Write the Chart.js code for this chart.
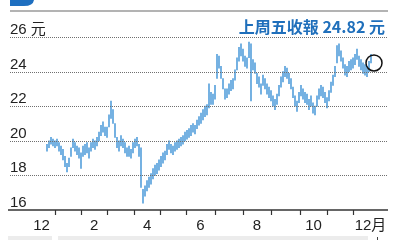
<!DOCTYPE html>
<html>
<head>
<meta charset="utf-8">
<script src="https://cdn.jsdelivr.net/npm/chart.js@4"></script>
<style>
  html, body { margin: 0; padding: 0; background: #fff; }
  #wrap { width: 400px; height: 240px; position: relative; }
</style>
</head>
<body>
<div id="wrap"><canvas id="stockChart" width="400" height="240"></canvas></div>
<script>
// ===== DATA =====
const titleText = '上周五收報 24.82 元';
const yTicks = [16, 18, 20, 22, 24, 26];
const yUnit = '元';
const monthLabels = ['12', '2', '4', '6', '8', '10', '12月'];
// month boundaries on the trading-slot axis (Dec .. Dec)
const monthEdges = [9, 22.5, 35.5, 48.65, 62.15, 75, 88, 102.5, 116.5, 130.5, 145, 158.5, 171.5, 185];
const firstSlot = 18.5;

const lows = [
    19.4, 19.6, 19.8, 19.7, 19.6, 19.7, 19.4, 19.2, 18.9, 18.5, 18.2, 18.5, 19.1, 19.6, 19.4, 19.2, 19.0, 18.4, 19.1, 19.2,
    19.3, 19.0, 19.4, 19.6, 19.5, 19.7, 20.0, 20.3, 20.5, 20.3, 20.2, 20.8, 21.3, 21.0, 20.2, 19.6, 19.4, 19.7, 19.6, 19.3,
    19.1, 19.1, 19.0, 19.3, 19.6, 19.7, 19.1, 17.3, 16.4, 16.8, 17.1, 17.3, 17.5, 17.8, 18.0, 18.1, 18.3, 18.5, 18.7, 18.9,
    19.2, 19.5, 19.3, 19.2, 19.4, 19.5, 19.6, 19.7, 19.8, 20.0, 20.1, 20.2, 20.3, 20.5, 20.4, 20.7, 20.9, 21.0, 21.2, 21.4,
    21.5, 21.9, 22.1, 22.1, 22.4, 23.6, 24.2, 23.6, 23.0, 22.4, 22.5, 22.7, 22.9, 23.0, 23.5, 24.1, 24.6, 24.9, 24.6, 24.3,
    24.2, 24.8, 22.3, 24.1, 23.9, 23.3, 23.1, 22.7, 23.2, 23.0, 22.7, 22.5, 22.3, 22.0, 21.8, 22.1, 22.6, 23.1, 23.4, 23.7,
    23.6, 23.3, 23.0, 22.5, 22.0, 21.7, 22.2, 22.6, 22.4, 22.2, 22.1, 21.8, 22.0, 21.6, 21.5, 22.0, 22.4, 22.6, 22.5, 22.2,
    21.9, 22.3, 22.8, 23.2, 23.7, 24.5, 24.9, 24.6, 24.2, 23.8, 23.7, 24.0, 24.1, 24.2, 24.4, 24.7, 24.3, 24.1, 23.9, 23.8,
    23.7, 24.0, 24.5
];
const highs = [
    19.8, 20.0, 20.2, 20.1, 20.0, 20.1, 19.9, 19.7, 19.5, 19.1, 18.7, 19.0, 19.6, 20.1, 19.9, 19.7, 19.6, 19.3, 19.7, 19.8,
    19.9, 19.6, 19.9, 20.1, 20.0, 20.2, 20.5, 20.9, 21.1, 20.8, 20.8, 21.5, 22.3, 21.8, 21.0, 20.2, 20.0, 20.3, 20.1, 19.9,
    19.6, 19.7, 19.5, 19.9, 20.1, 20.2, 19.8, 19.6, 17.2, 17.4, 17.7, 17.9, 18.1, 18.4, 18.6, 18.7, 18.9, 19.1, 19.3, 19.4,
    19.8, 20.0, 19.8, 19.7, 19.9, 20.0, 20.1, 20.2, 20.3, 20.5, 20.6, 20.7, 20.9, 21.0, 20.9, 21.2, 21.4, 21.6, 21.8, 22.0,
    22.1, 23.3, 22.8, 22.7, 23.2, 25.0, 24.9, 24.3, 23.6, 23.0, 23.0, 23.3, 23.5, 23.6, 24.1, 24.8, 25.4, 25.6, 25.3, 24.9,
    24.8, 25.7, 25.6, 24.7, 24.5, 23.9, 23.7, 23.3, 23.8, 23.6, 23.3, 23.1, 22.9, 22.6, 22.4, 22.7, 23.2, 23.7, 24.0, 24.3,
    24.2, 23.9, 23.6, 23.1, 22.6, 22.3, 22.8, 23.2, 23.0, 22.8, 22.7, 22.4, 22.6, 22.2, 22.0, 22.6, 23.0, 23.2, 23.1, 22.8,
    22.5, 22.9, 23.4, 23.8, 24.3, 25.5, 25.6, 25.2, 24.8, 24.4, 24.3, 24.6, 24.7, 24.8, 25.0, 25.3, 24.9, 24.7, 24.5, 24.4,
    24.3, 24.6, 25.0
];

document.addEventListener('DOMContentLoaded', function () {
    const points = lows.map((lo, i) => ({ x: firstSlot + i, y: [lo, highs[i]] }));

    const decorPlugin = {
        id: 'decor',
        afterDraw(chart) {
            const { ctx, chartArea: { left, right, bottom }, scales: { x, y } } = chart;
            ctx.save();

            // top rule + logo stub
            ctx.fillStyle = '#1e6fc0';
            ctx.beginPath();
            ctx.moveTo(10, 0);
            ctx.lineTo(34, 0);
            ctx.quadraticCurveTo(33, 6, 24, 6);
            ctx.lineTo(10, 6);
            ctx.closePath();
            ctx.fill();
            ctx.strokeStyle = '#9a9a9a';
            ctx.lineWidth = 1.5;
            ctx.beginPath();
            ctx.moveTo(left, 11);
            ctx.lineTo(right, 11);
            ctx.stroke();

            // title
            ctx.fillStyle = '#1f6fbb';
            ctx.font = 'bold 16px "Noto Sans CJK TC", sans-serif';
            ctx.textAlign = 'right';
            ctx.textBaseline = 'alphabetic';
            ctx.fillText(titleText, right - 3, 33);

            // dotted grid + y labels
            ctx.font = '15px "Liberation Sans", "Noto Sans CJK TC", sans-serif';
            ctx.textAlign = 'left';
            yTicks.forEach((v) => {
                const py = Math.round(y.getPixelForValue(v)) + 0.5;
                if (v !== yTicks[0]) {
                    ctx.strokeStyle = '#707070';
                    ctx.lineWidth = 1;
                    ctx.setLineDash([1, 1]);
                    ctx.beginPath();
                    ctx.moveTo(left, py);
                    ctx.lineTo(right, py);
                    ctx.stroke();
                    ctx.setLineDash([]);
                }
                ctx.fillStyle = '#222';
                const label = v === yTicks[yTicks.length - 1] ? v + ' ' + yUnit : String(v);
                ctx.fillText(label, left, py - 4);
            });

            // x axis line and month ticks
            ctx.strokeStyle = '#333';
            ctx.lineWidth = 1.5;
            ctx.beginPath();
            ctx.moveTo(left - 2, bottom);
            ctx.lineTo(right, bottom);
            ctx.stroke();
            ctx.lineWidth = 1.2;
            monthEdges.slice(1, -1).forEach((m) => {
                const px = Math.round(x.getPixelForValue(m)) + 0.5;
                ctx.beginPath();
                ctx.moveTo(px, bottom);
                ctx.lineTo(px, bottom + 5);
                ctx.stroke();
            });

            ctx.fillStyle = '#222';
            ctx.textAlign = 'center';
            monthLabels.forEach((lab, i) => {
                const mid = (monthEdges[i * 2] + monthEdges[i * 2 + 1]) / 2;
                const shift = lab.length > 2 ? 4 : 0;
                ctx.fillText(lab, x.getPixelForValue(mid) + shift, bottom + 20);
            });

            // marker round the last close
            const meta = chart.getDatasetMeta(0).data;
            const last = meta[meta.length - 1];
            ctx.strokeStyle = '#111';
            ctx.lineWidth = 1.5;
            ctx.beginPath();
            ctx.arc(last.x + 3, y.getPixelForValue(24.5), 8, 0, Math.PI * 2);
            ctx.stroke();

            // bottom strips
            ctx.fillStyle = '#ececec';
            ctx.fillRect(8, 236, 44, 4);
            ctx.fillRect(58, 236, 310, 4);
            ctx.fillStyle = '#444';
            ctx.fillRect(377, 237, 1, 3);

            ctx.restore();
        }
    };

    new Chart(document.getElementById('stockChart'), {
        type: 'bar',
        data: {
            datasets: [{
                data: points,
                backgroundColor: '#5aa2dc',
                borderWidth: 0,
                barThickness: 1
            }]
        },
        options: {
            responsive: false,
            animation: false,
            layout: { padding: { left: 10, right: 12, top: 37, bottom: 30 } },
            scales: {
                x: { type: 'linear', min: 0, max: 189, offset: false, grid: { offset: false }, display: false },
                y: { min: 16, max: 26, display: false }
            },
            plugins: {
                legend: { display: false },
                tooltip: { enabled: false }
            }
        },
        plugins: [decorPlugin]
    });
});
</script>
</body>
</html>
